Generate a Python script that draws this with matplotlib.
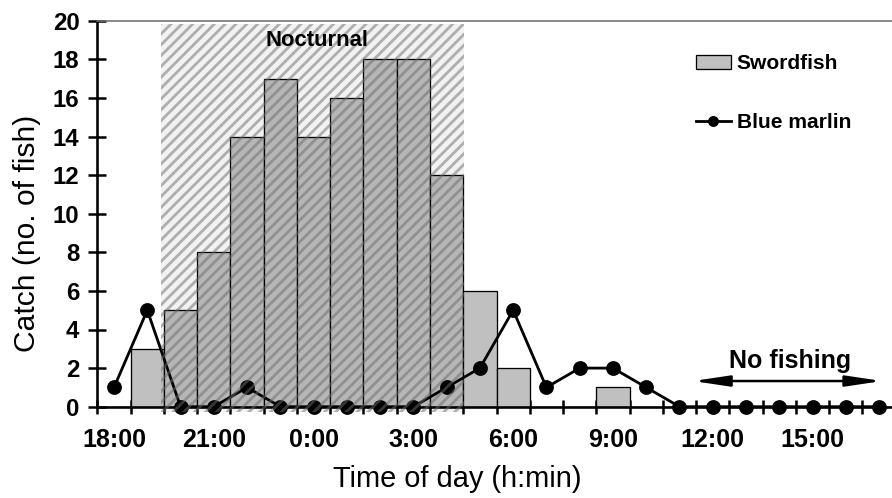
import numpy as np
import matplotlib
matplotlib.use('Agg')
import matplotlib.pyplot as plt
from matplotlib.patches import Rectangle

DPI = 130
plt.rcParams['font.family'] = ['Liberation Sans', 'DejaVu Sans']

# hours counted from 0:00 of the first day (18 = 18:00, 24 = 0:00 next day)
hours = np.arange(18, 42)
swordfish = [0, 3, 5, 8, 14, 17, 14, 16, 18, 18, 12, 6, 2, 0, 0, 1,
             0, 0, 0, 0, 0, 0, 0, 0]
blue_marlin = [1, 5, 0, 0, 1, 0, 0, 0, 0, 0, 1, 2, 5, 1, 2, 2,
               1, 0, 0, 0, 0, 0, 0, 0]
label_hours = [18, 21, 24, 27, 30, 33, 36, 39]
label_text = ['18:00', '21:00', '0:00', '3:00', '6:00', '9:00', '12:00', '15:00']
night_start, night_end = 19.41, 28.52
no_fish_start, no_fish_end = 35.41, 41.09


def px(v):
    """pixels -> points"""
    return v * 72.0 / DPI


fig = plt.figure(figsize=(892 / DPI, 498 / DPI), dpi=DPI)
ax = fig.add_axes([97.4 / 892, 91.3 / 498, 794.6 / 892, 386.0 / 498])

bars = ax.bar(hours, swordfish, width=1.0, color='#c0c0c0', edgecolor='black',
              linewidth=px(1.3), zorder=2, label='Swordfish')
line, = ax.plot(hours, blue_marlin, color='black', lw=px(2.8), marker='o',
                ms=px(13), zorder=3, clip_on=False, label='Blue marlin')

# nocturnal period, hatched over everything
plt.rcParams['hatch.linewidth'] = px(2.8)
night = Rectangle((night_start, -0.3), night_end - night_start, 20.13,
                  facecolor=(0, 0, 0, 0.05), edgecolor=(0.42, 0.42, 0.42, 0.5),
                  hatch='////', linewidth=0, zorder=4, clip_on=False)
ax.add_patch(night)

ax.text(24.1, 19.0, 'Nocturnal', ha='center', va='center',
        fontsize=px(22), fontweight='bold', zorder=5)
ax.text(38.32, 2.37, 'No fishing', ha='center', va='center',
        fontsize=px(25), fontweight='bold')
ax.annotate('', xy=(no_fish_start, 1.33), xytext=(no_fish_end, 1.33),
            arrowprops=dict(arrowstyle=f'<|-|>,head_length={px(30)},head_width={px(4.5)}',
                            color='black', lw=px(2.5), shrinkA=0, shrinkB=0,
                            mutation_scale=1))

ax.set_xlim(17.5, 41.39)
ax.set_ylim(0, 20)
ax.set_yticks(np.arange(0, 21, 2))
ax.set_xticks(label_hours)
ax.set_xticklabels(label_text)
ax.set_xticks(np.arange(17.5, 41, 1.0), minor=True)
ax.tick_params(axis='x', which='major', length=0, pad=px(21),
               labelsize=px(25))
ax.tick_params(axis='x', which='minor', direction='inout', length=px(14),
               width=px(2.5), color='black')
ax.tick_params(axis='y', which='major', direction='inout', length=px(18),
               width=px(2.5), pad=px(9), labelsize=px(24))
for lab in ax.get_xticklabels() + ax.get_yticklabels():
    lab.set_fontweight('bold')

ax.spines['left'].set_linewidth(px(2.6))
ax.spines['bottom'].set_linewidth(px(2.6))
ax.spines['bottom'].set_zorder(3.5)
ax.spines['top'].set_linewidth(px(1.6))
ax.spines['top'].set_color('#707070')
ax.spines['right'].set_visible(False)

ax.set_xlabel('Time of day (h:min)', fontsize=px(29))
ax.set_ylabel('Catch (no. of fish)', fontsize=px(30))
ax.xaxis.set_label_coords(0.4526, -0.151)
ax.yaxis.set_label_coords(-0.071, 0.45)

ax.legend([bars, line], ['Swordfish', 'Blue marlin'], loc='upper left',
          bbox_to_anchor=(0.74, 0.94), frameon=False,
          prop={'size': px(21), 'weight': 'bold'}, borderpad=0,
          labelspacing=1.9, handlelength=1.65, handletextpad=0.3,
          markerscale=0.7)

fig.savefig('out.png', dpi=DPI)
